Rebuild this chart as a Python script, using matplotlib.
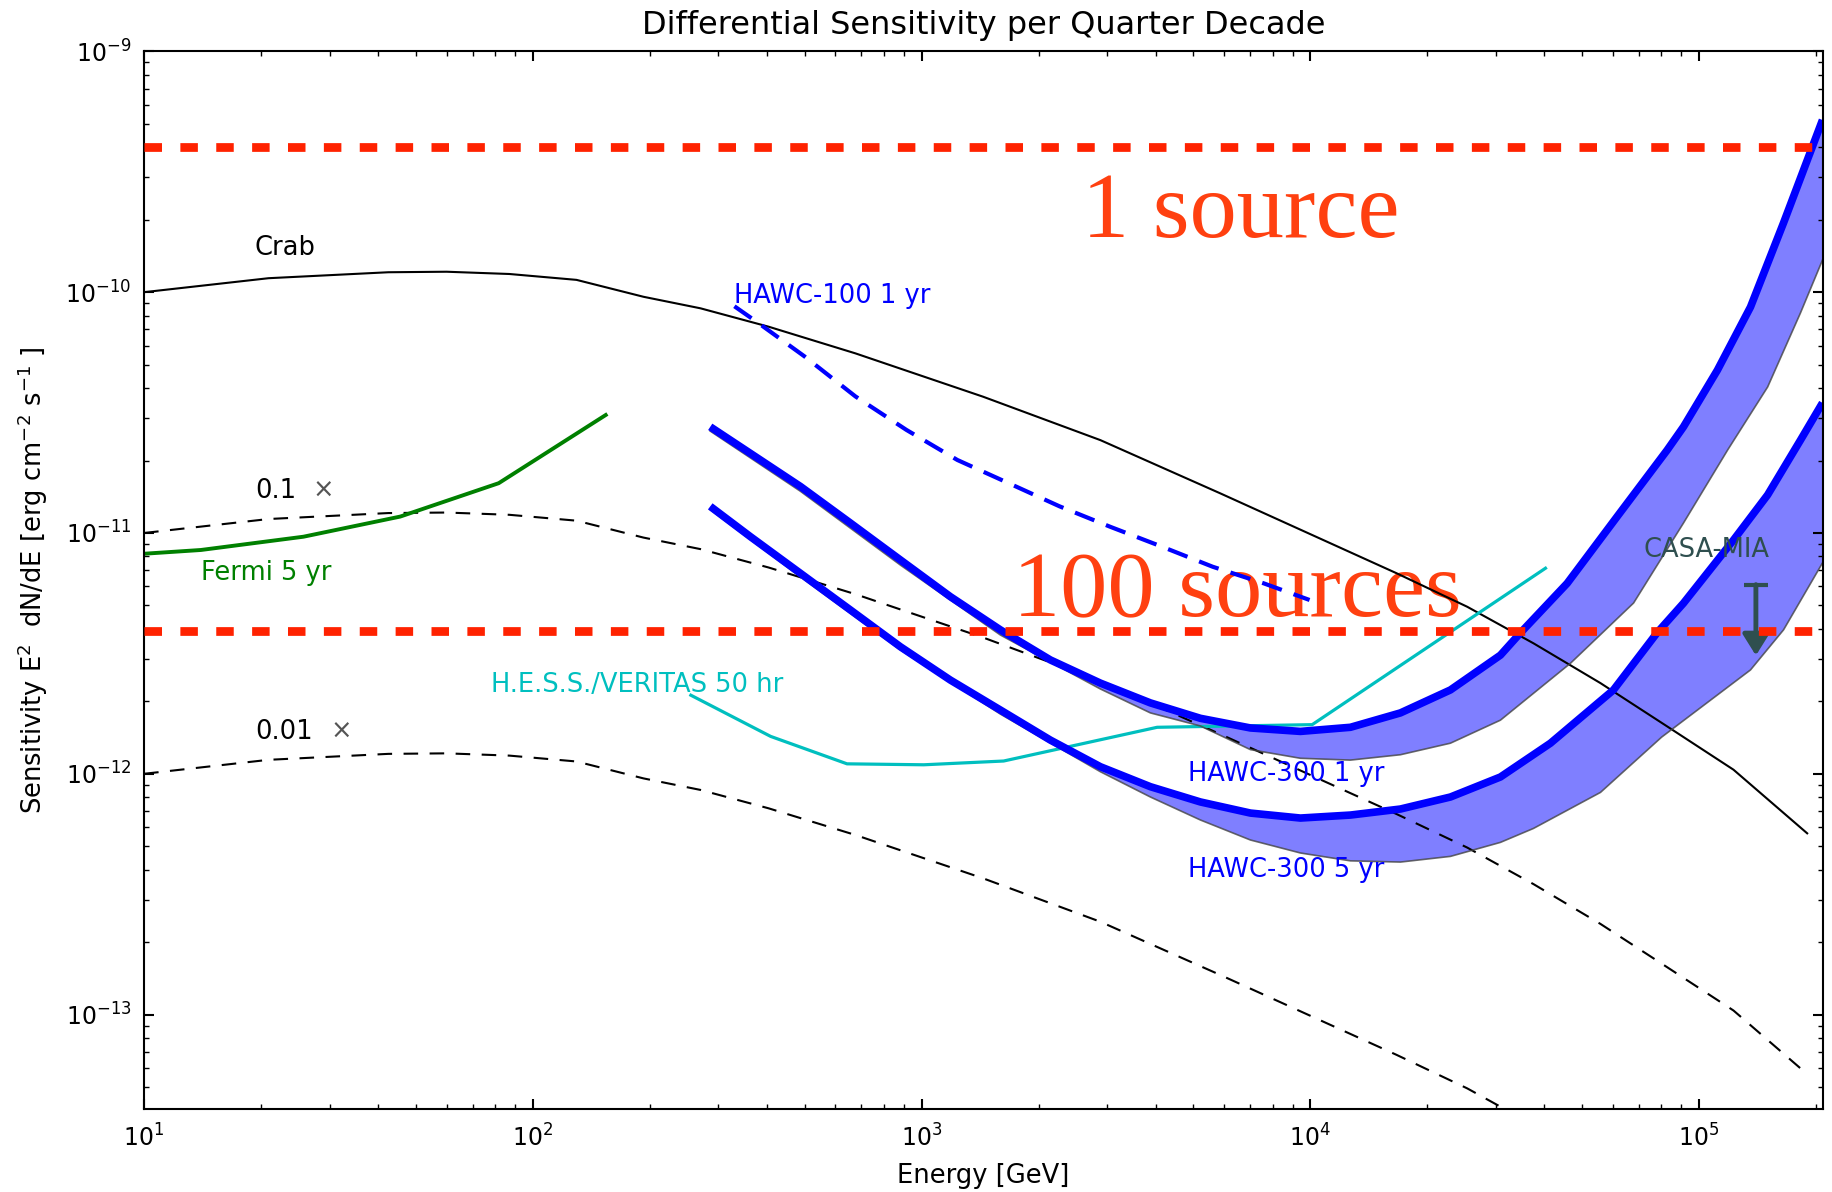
import numpy as np
import matplotlib
matplotlib.use('Agg')
import matplotlib.pyplot as plt
from matplotlib.ticker import NullFormatter, FixedLocator

# Crab spectrum (E^2 dN/dE), the 0.1x and 0.01x curves are scaled copies
energy_crab = [10, 20.9, 42.5, 60, 87, 129.5, 192.6, 270, 404, 676, 1440, 2884,
               5871, 16650, 25320, 37530, 55760, 82940, 122600, 189700]
flux_crab = [1.0e-10, 1.143e-10, 1.21e-10, 1.216e-10, 1.19e-10, 1.125e-10, 9.57e-11,
             8.57e-11, 7.19e-11, 5.57e-11, 3.68e-11, 2.43e-11, 1.46e-11, 6.81e-12,
             4.94e-12, 3.48e-12, 2.38e-12, 1.57e-12, 1.04e-12, 5.66e-13]
crab_factors = [0.1, 0.01]

energy_fermi = [10, 14, 25.7, 45.6, 81.7, 154]
flux_fermi = [8.2e-12, 8.5e-12, 9.65e-12, 1.17e-11, 1.61e-11, 3.09e-11]

energy_hess = [255, 409, 643, 1013, 1626, 4035, 10110, 40260]
flux_hess = [2.12e-12, 1.43e-12, 1.10e-12, 1.09e-12, 1.13e-12, 1.56e-12, 1.60e-12, 7.14e-12]

energy_hawc100 = [330, 381, 500, 676, 914, 1236, 1675, 2265, 3062, 4140, 5610, 7586, 9954]
flux_hawc100 = [8.74e-11, 7.43e-11, 5.41e-11, 3.69e-11, 2.68e-11, 2.01e-11, 1.61e-11,
                1.29e-11, 1.06e-11, 8.79e-12, 7.24e-12, 6.18e-12, 5.27e-12]

# HAWC-300 1 yr: thick line and lower edge of the band
energy_1yr = [286, 363, 488, 656, 882, 1186, 1595, 2145, 2884, 3878, 5214, 7013, 9430,
              12680, 17050, 22930, 30830, 34720, 45780, 61550, 82780, 91170, 111500,
              135600, 164900, 207700]
flux_1yr = [2.76e-11, 2.14e-11, 1.56e-11, 1.10e-11, 7.73e-12, 5.44e-12, 3.96e-12, 2.97e-12,
            2.38e-12, 1.97e-12, 1.70e-12, 1.55e-12, 1.50e-12, 1.56e-12, 1.79e-12, 2.23e-12,
            3.11e-12, 3.85e-12, 6.18e-12, 1.17e-11, 2.21e-11, 2.76e-11, 4.75e-11, 8.68e-11,
            1.94e-10, 5.19e-10]
energy_1yr_low = [286, 488, 882, 1595, 2884, 3878, 5214, 7013, 9430, 12680, 17050, 22930,
                  30830, 46710, 67850, 91170, 118400, 150100, 182300, 207700]
flux_1yr_low = [2.65e-11, 1.49e-11, 7.36e-12, 3.77e-12, 2.25e-12, 1.79e-12, 1.58e-12,
                1.26e-12, 1.16e-12, 1.14e-12, 1.20e-12, 1.34e-12, 1.67e-12, 2.88e-12,
                5.12e-12, 1.10e-11, 2.21e-11, 4.04e-11, 8.20e-11, 1.36e-10]

# HAWC-300 5 yr
energy_5yr = [286, 363, 488, 656, 882, 1186, 1595, 2145, 2884, 3878, 5214, 7013, 9430,
              12680, 17050, 22930, 30830, 41460, 60230, 77960, 91170, 122600, 150100,
              182300, 207700]
flux_5yr = [1.29e-11, 9.65e-12, 6.80e-12, 4.79e-12, 3.37e-12, 2.45e-12, 1.84e-12, 1.38e-12,
            1.07e-12, 8.84e-13, 7.64e-13, 6.87e-13, 6.55e-13, 6.74e-13, 7.14e-13, 8.01e-13,
            9.70e-13, 1.34e-12, 2.23e-12, 3.85e-12, 5.11e-12, 9.35e-12, 1.44e-11, 2.43e-11,
            3.47e-11]
energy_5yr_low = [286, 488, 882, 1595, 2884, 3878, 5214, 7013, 9430, 12680, 17050, 22930,
                  30830, 37490, 55760, 80100, 135600, 164900, 207700]
flux_5yr_low = [1.25e-11, 6.57e-12, 3.27e-12, 1.77e-12, 1.02e-12, 8.01e-13, 6.43e-13,
                5.31e-13, 4.69e-13, 4.35e-13, 4.30e-13, 4.54e-13, 5.19e-13, 5.93e-13,
                8.37e-13, 1.42e-12, 2.70e-12, 3.96e-12, 7.51e-12]

casa_energy = 1.4e5
casa_limit = [6.1e-12, 3.1e-12]

source_levels = [4.0e-10, 3.9e-12]
source_labels = ['1 source', '100 sources']

x_major = [1e1, 1e2, 1e3, 1e4, 1e5]
y_major = [1e-13, 1e-12, 1e-11, 1e-10, 1e-9]

fig = plt.figure(figsize=(18.33, 11.92), dpi=100)
ax = fig.add_axes([0.0786, 0.0693, 0.9158, 0.8876])
ax.set_xscale('log')
ax.set_yscale('log')

# crab and scaled copies
ax.plot(energy_crab, flux_crab, color='black', lw=1.5)
for f in crab_factors:
    ax.plot(energy_crab, np.array(flux_crab) * f, color='black', lw=1.5, dashes=(7, 5.5))

ax.plot(energy_fermi, flux_fermi, color='green', lw=2.8)
ax.plot(energy_hess, flux_hess, color='c', lw=2.3)
ax.plot(energy_hawc100, flux_hawc100, color='blue', lw=3, dashes=(5, 3))

# bands: polygon between thick line and lower edge
for e_hi, f_hi, e_lo, f_lo in [(energy_1yr, flux_1yr, energy_1yr_low, flux_1yr_low),
                               (energy_5yr, flux_5yr, energy_5yr_low, flux_5yr_low)]:
    xs = np.concatenate([e_hi, e_lo[::-1]])
    ys = np.concatenate([f_hi, f_lo[::-1]])
    ax.fill(xs, ys, facecolor='blue', alpha=0.5, edgecolor='none')
    ax.plot(e_lo, f_lo, color='#444444', lw=1.2, alpha=0.8)
    ax.plot(e_hi, f_hi, color='blue', lw=5.5, solid_capstyle='butt', solid_joinstyle='round')

# CASA-MIA upper limit
casa_col = 'darkslategray'
ax.plot([casa_energy], [casa_limit[0]], marker='_', ms=17, mew=3, color=casa_col, zorder=6)
ax.annotate('', xy=(casa_energy, casa_limit[1]), xytext=(casa_energy, casa_limit[0]),
            arrowprops=dict(arrowstyle='-|>,head_length=0.4,head_width=0.25',
                            color=casa_col, lw=3.5, mutation_scale=32,
                            shrinkA=0, shrinkB=0), zorder=6)

for lev in source_levels:
    ax.axhline(lev, color='#ff2200', lw=6.3, dashes=(2, 2.1), zorder=10)

fs = 18.5
ax.text(19.2, 1.53e-10, 'Crab', fontsize=fs, va='center')
ax.text(19.3, 1.49e-11, '0.1', fontsize=fs, va='center')
ax.text(27.1, 1.49e-11, '\u00d7', fontsize=fs, va='center', color='#555555')
ax.text(19.3, 1.49e-12, '0.01', fontsize=fs, va='center')
ax.text(30.1, 1.49e-12, '\u00d7', fontsize=fs, va='center', color='#555555')
ax.text(14.05, 6.8e-12, 'Fermi 5 yr', fontsize=fs, va='center', color='green')
ax.text(78.2, 2.34e-12, 'H.E.S.S./VERITAS 50 hr', fontsize=fs, va='center', color='c')
ax.text(330, 9.66e-11, 'HAWC-100 1 yr', fontsize=fs, va='center', color='blue')
ax.text(4850, 1.0e-12, 'HAWC-300 1 yr', fontsize=fs, va='center', color='blue')
ax.text(4850, 4.0e-13, 'HAWC-300 5 yr', fontsize=fs, va='center', color='blue')
ax.text(7.21e4, 8.5e-12, 'CASA-MIA', fontsize=fs, va='center', color=casa_col)

ax.text(2580, 1.69e-10, source_labels[0], fontsize=68, family='Liberation Serif',
        color='#ff4010', va='baseline', zorder=11)
ax.text(1714, 4.52e-12, source_labels[1], fontsize=68, family='Liberation Serif',
        color='#ff4010', va='baseline', zorder=1.5)

ax.set_xlim(10, 2.08e5)
ax.set_ylim(4.04e-14, 1e-9)
ax.xaxis.set_major_locator(FixedLocator(x_major))
ax.yaxis.set_major_locator(FixedLocator(y_major))
ax.xaxis.set_minor_formatter(NullFormatter())
ax.yaxis.set_minor_formatter(NullFormatter())

ax.text(0.5, 1.0243, 'Differential Sensitivity per Quarter Decade', transform=ax.transAxes,
        ha='center', va='center', fontsize=23)
ax.set_xlabel('Energy [GeV]', fontsize=fs)
ax.set_ylabel(r'Sensitivity E$^2$  dN/dE [erg cm$^{-2}$ s$^{-1}$ ]', fontsize=fs)
ax.xaxis.set_label_coords(0.5, -0.0507)
ax.yaxis.set_label_coords(-0.056, 0.5)

ax.tick_params(which='both', direction='in', top=True, right=True, labelsize=17)
ax.tick_params(which='major', length=7, width=1.5)
ax.tick_params(which='minor', length=3.5, width=1)
ax.tick_params(axis='x', pad=11)
ax.tick_params(axis='y', pad=9)
for sp in ax.spines.values():
    sp.set_linewidth(1.5)

plt.savefig('out.png', dpi=100)
